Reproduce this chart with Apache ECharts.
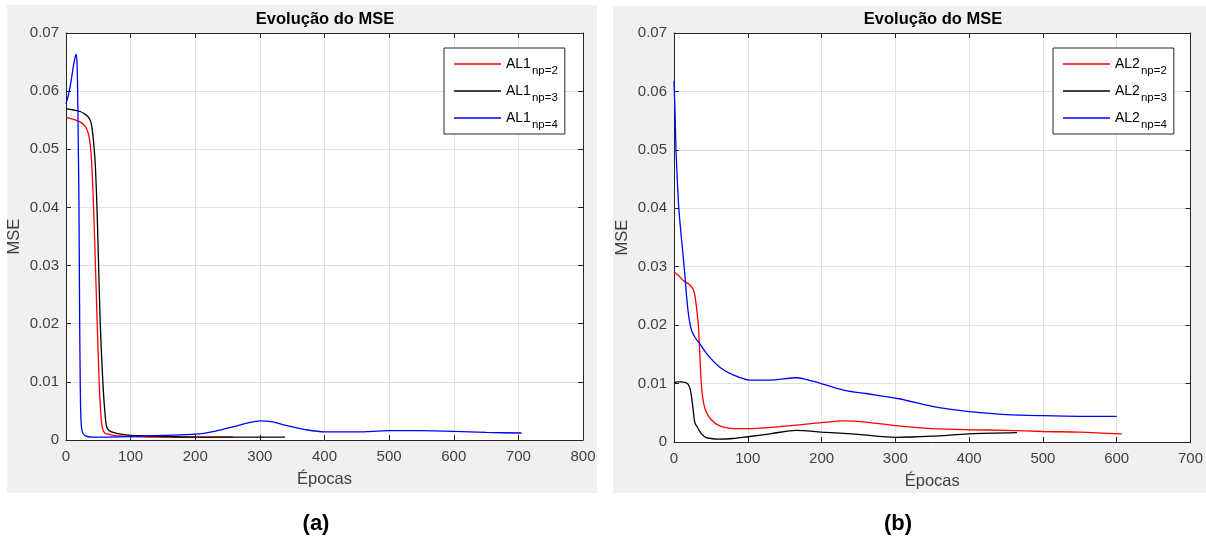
<!DOCTYPE html>
<html>
<head>
<meta charset="utf-8">
<script src="https://cdn.jsdelivr.net/npm/echarts@6/dist/echarts.min.js"></script>
<style>
html,body{margin:0;padding:0;background:#fff;}
#chart{width:1206px;height:544px;}
</style>
</head>
<body>
<div id="chart"></div>
<script>
// ---------- Data ----------
const titleText = 'Evolução do MSE';
const xName = 'Épocas';
const yName = 'MSE';
const panelLabels = ['(a)', '(b)'];

const xTicksA = [0, 800, 100];   // min, max, interval
const xTicksB = [0, 700, 100];
const yTicks = [0, 0.07, 0.01];

// Panel (a)
const a2x = [0, 10, 20, 27, 32, 36, 39, 42, 45, 48, 51, 53, 55, 57, 60, 65, 73, 85, 100, 150, 200, 258];
const a2y = [0.0555, 0.0552, 0.0548, 0.0543, 0.0535, 0.0520, 0.0490, 0.0420, 0.0320, 0.0210, 0.0110, 0.0060, 0.0030, 0.0018, 0.0012, 0.0010, 0.0008, 0.0007, 0.0006, 0.0005, 0.0005, 0.0005];

const a3x = [0, 10, 22, 30, 35, 39, 42, 45, 47.5, 50, 53, 57, 60, 63, 67, 73, 85, 100, 150, 200, 250, 300, 339];
const a3y = [0.0570, 0.0568, 0.0565, 0.0560, 0.0555, 0.0545, 0.0520, 0.0480, 0.0414, 0.0320, 0.0200, 0.0100, 0.0050, 0.0022, 0.0016, 0.0013, 0.0010, 0.0008, 0.0006, 0.0005, 0.0005, 0.0005, 0.0005];

const a4x = [0, 4, 8, 11, 14, 15.5, 17, 18, 19, 20, 21, 22, 23, 25, 30, 40, 60, 100, 150, 200, 230, 260, 280, 300, 320, 340, 370, 400, 450, 500, 550, 600, 650, 705];
const a4y = [0.0578, 0.0595, 0.0618, 0.0640, 0.0658, 0.0663, 0.0650, 0.0600, 0.0510, 0.0410, 0.0230, 0.0100, 0.0040, 0.0015, 0.0007, 0.0005, 0.0005, 0.0006, 0.0008, 0.0010, 0.0015, 0.0023, 0.0029, 0.0033, 0.0031, 0.0025, 0.0018, 0.0014, 0.0014, 0.0016, 0.0016, 0.0015, 0.0013, 0.0012];

// Panel (b)
const b2x = [0, 6, 12, 18, 23, 27, 29, 31, 33, 35, 37, 39, 42, 46, 50, 57, 66, 80, 100, 150, 200, 230, 260, 300, 350, 400, 450, 500, 550, 607];
const b2y = [0.0291, 0.0285, 0.0277, 0.0272, 0.0267, 0.0258, 0.0245, 0.0225, 0.0200, 0.0150, 0.0100, 0.0075, 0.0057, 0.0046, 0.0039, 0.0031, 0.0026, 0.0023, 0.0023, 0.0027, 0.0033, 0.0036, 0.0034, 0.0028, 0.0023, 0.0021, 0.0020, 0.0018, 0.0017, 0.0014];

const b3x = [0, 5, 10, 15, 19, 22, 24, 26, 27.5, 29, 31, 34, 38, 43, 50, 60, 80, 100, 130, 166, 200, 250, 300, 350, 400, 465];
const b3y = [0.0101, 0.0103, 0.0103, 0.0102, 0.0099, 0.0090, 0.0075, 0.0055, 0.0038, 0.0031, 0.0027, 0.0020, 0.0013, 0.0008, 0.0006, 0.0005, 0.0006, 0.0009, 0.0014, 0.0020, 0.0017, 0.0013, 0.0008, 0.0010, 0.0014, 0.0016];

const b4x = [0, 1.5, 3, 6, 8.5, 11.5, 14.5, 17, 20, 24, 29, 35, 45, 62, 80, 103, 130, 166, 188, 210, 233, 260, 305, 350, 400, 450, 500, 550, 600];
const b4y = [0.0618, 0.0560, 0.0490, 0.0410, 0.0370, 0.0330, 0.0290, 0.0250, 0.0215, 0.0190, 0.0178, 0.0168, 0.0150, 0.0128, 0.0115, 0.0106, 0.0106, 0.0110, 0.0104, 0.0096, 0.0088, 0.0083, 0.0074, 0.0061, 0.0052, 0.0047, 0.0045, 0.0044, 0.0044];

const seriesNamesA = ['AL1 np=2', 'AL1 np=3', 'AL1 np=4'];
const seriesNamesB = ['AL2 np=2', 'AL2 np=3', 'AL2 np=4'];
const colors = ['#ff0000', '#000000', '#0000ff'];

// ---------- Chart ----------
const FONT = '"Liberation Sans", Arial, Helvetica, sans-serif';
const AX = '#262626';
const LBL = '#404040';
const pair = (xs, ys) => xs.map((x, i) => [x, ys[i]]);
const fmtY = v => (v === 0 ? '0' : v.toFixed(2));

const grids = [
  { left: 66, top: 33, width: 517, height: 407 },
  { left: 674, top: 33, width: 518, height: 409 }
];

function xAxes(gi, t) {
  const base = {
    type: 'value', gridIndex: gi, min: t[0], max: t[1], interval: t[2],
    axisLine: { show: true, onZero: false, lineStyle: { color: AX, width: 1 } },
    axisTick: { show: true, inside: true, length: 5, lineStyle: { color: AX } },
  };
  return [
    Object.assign({}, base, {
      position: 'bottom',
      name: xName, nameLocation: 'middle', nameGap: 31,
      nameTextStyle: { fontFamily: FONT, fontSize: 16.5, color: LBL },
      axisLabel: { show: true, margin: 9, fontFamily: FONT, fontSize: 15, color: LBL },
      splitLine: { show: true, lineStyle: { color: '#e1e1e1', width: 1 } }
    }),
    Object.assign({}, base, {
      position: 'top', axisLabel: { show: false }, splitLine: { show: false }
    })
  ];
}
function yAxes(gi) {
  const base = {
    type: 'value', gridIndex: gi, min: yTicks[0], max: yTicks[1], interval: yTicks[2],
    axisLine: { show: true, onZero: false, lineStyle: { color: AX, width: 1 } },
    axisTick: { show: true, inside: true, length: 5, lineStyle: { color: AX } },
  };
  return [
    Object.assign({}, base, {
      position: 'left',
      name: yName, nameLocation: 'middle', nameGap: 43, nameRotate: 90,
      nameTextStyle: { fontFamily: FONT, fontSize: 16.5, color: LBL },
      axisLabel: { show: true, margin: 7, fontFamily: FONT, fontSize: 15, color: LBL, formatter: fmtY },
      splitLine: { show: true, lineStyle: { color: '#e1e1e1', width: 1 } }
    }),
    Object.assign({}, base, {
      position: 'right', axisLabel: { show: false }, splitLine: { show: false }
    })
  ];
}

function mkSeries(name, xs, ys, color, xi, yi) {
  return {
    type: 'line', name: name, data: pair(xs, ys),
    xAxisIndex: xi, yAxisIndex: yi,
    showSymbol: false, symbol: 'none',
    smooth: 0.3,
    color: color,
    lineStyle: { color: color, width: 1.3 },
    animation: false, z: 3
  };
}

function mkLegend(names, left) {
  return {
    orient: 'vertical', left: left, top: 48,
    data: names,
    icon: 'rect', itemWidth: 47, itemHeight: 1.3,
    itemGap: 1,
    padding: [3, 7, 3, 10],
    borderColor: AX, borderWidth: 1, backgroundColor: '#fff',
    selectedMode: false,
    formatter: n => { const p = n.split(' '); return '{a|' + p[0] + '}{b|' + p[1] + '}'; },
    textStyle: {
      fontFamily: FONT, color: '#000',
      rich: {
        a: { fontFamily: FONT, fontSize: 14, color: '#000', lineHeight: 18 },
        b: { fontFamily: FONT, fontSize: 11.5, color: '#000', lineHeight: 11, padding: [14, 0, 0, 1] }
      }
    }
  };
}

const chart = echarts.init(document.getElementById('chart'), null, { renderer: 'canvas' });
const option = {
  backgroundColor: '#ffffff',
  animation: false,
  grid: grids.map(g => Object.assign({ show: true, backgroundColor: '#ffffff', borderWidth: 0 }, g)),
  xAxis: [].concat(xAxes(0, xTicksA), xAxes(1, xTicksB)),
  yAxis: [].concat(yAxes(0), yAxes(1)),
  legend: [mkLegend(seriesNamesA, 444), mkLegend(seriesNamesB, 1053)],
  series: [
    mkSeries(seriesNamesA[0], a2x, a2y, colors[0], 0, 0),
    mkSeries(seriesNamesA[1], a3x, a3y, colors[1], 0, 0),
    mkSeries(seriesNamesA[2], a4x, a4y, colors[2], 0, 0),
    mkSeries(seriesNamesB[0], b2x, b2y, colors[0], 2, 2),
    mkSeries(seriesNamesB[1], b3x, b3y, colors[1], 2, 2),
    mkSeries(seriesNamesB[2], b4x, b4y, colors[2], 2, 2)
  ],
  graphic: [
    { type: 'rect', z: -10, shape: { x: 7, y: 5, width: 590, height: 488 }, style: { fill: '#f0f0f0' } },
    { type: 'rect', z: -10, shape: { x: 613, y: 6, width: 593, height: 487 }, style: { fill: '#f0f0f0' } },
    { type: 'text', z: 5, x: 325, y: 19, style: { text: titleText, font: 'bold 16.5px ' + FONT, fill: '#000', textAlign: 'center', textVerticalAlign: 'middle' } },
    { type: 'text', z: 5, x: 933, y: 19, style: { text: titleText, font: 'bold 16.5px ' + FONT, fill: '#000', textAlign: 'center', textVerticalAlign: 'middle' } },
    { type: 'text', z: 5, x: 316, y: 524, style: { text: panelLabels[0], font: 'bold 22px ' + FONT, fill: '#000', textAlign: 'center', textVerticalAlign: 'middle' } },
    { type: 'text', z: 5, x: 898, y: 524, style: { text: panelLabels[1], font: 'bold 22px ' + FONT, fill: '#000', textAlign: 'center', textVerticalAlign: 'middle' } }
  ]
};
chart.setOption(option);
</script>
</body>
</html>
